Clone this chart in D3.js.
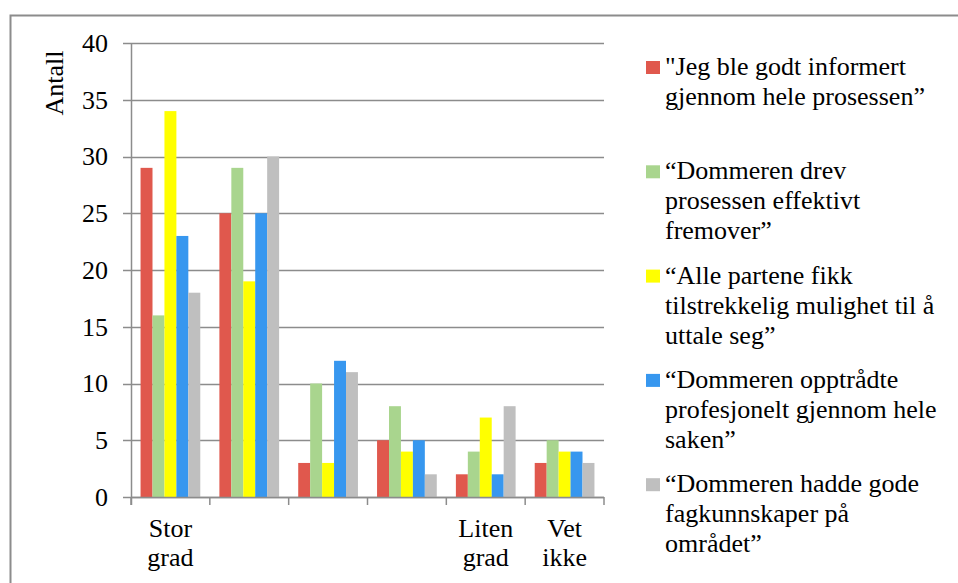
<!DOCTYPE html>
<html>
<head>
<meta charset="utf-8">
<script src="https://cdn.jsdelivr.net/npm/d3@7"></script>
<style>
  body { margin: 0; background: #fff; }
  svg text { font-family: 'Liberation Serif', serif !important; }
</style>
</head>
<body>
<div id="chart"></div>
<script>
// Categories (answer scale), each label split over two lines
const categories = [["Stor", "grad"], ["", ""], ["", ""], ["", ""], ["Liten", "grad"], ["Vet", "ikke"]];

// One series per statement
const seriesNames = [
    ["\"Jeg ble godt informert", "gjennom hele prosessen\u201d"],
    ["\u201cDommeren drev", "prosessen effektivt", "fremover\u201d"],
    ["\u201cAlle partene fikk", "tilstrekkelig mulighet til å", "uttale seg\u201d"],
    ["\u201cDommeren opptrådte", "profesjonelt gjennom hele", "saken\u201d"],
    ["\u201cDommeren hadde gode", "fagkunnskaper på", "området\u201d"]
];
const seriesColors = ["#e0584d", "#a9d58e", "#ffff00", "#3797ef", "#bfbfbf"];

const informert = [29, 25, 3, 5, 2, 3];
const effektivt = [16, 29, 10, 8, 4, 5];
const uttale    = [34, 19, 3, 4, 7, 4];
const profesjonelt = [23, 25, 12, 5, 2, 4];
const fagkunnskaper = [18, 30, 11, 2, 8, 3];
const seriesValues = [informert, effektivt, uttale, profesjonelt, fagkunnskaper];

const yTicks = [0, 5, 10, 15, 20, 25, 30, 35, 40];

const W = 958, H = 583;
const plot = { left: 131, right: 604, top: 43, bottom: 497 };
const fontSize = 26;
const gridColor = "#8c8c8c";

const svg = d3.select("#chart").append("svg")
    .attr("width", W)
    .attr("height", H);

// Times-like text everywhere
function serifText(sel) {
    return sel.style("font-family", "'Liberation Serif', serif", "important")
        .attr("font-size", fontSize)
        .attr("fill", "#000");
}

// Outer chart border (runs off the right and bottom of the picture)
svg.append("rect")
    .attr("x", 10.5).attr("y", 15.5)
    .attr("width", 960).attr("height", 600)
    .attr("fill", "none")
    .attr("stroke", gridColor)
    .attr("stroke-width", 2);

const x0 = d3.scaleBand()
    .domain(d3.range(categories.length))
    .range([plot.left, plot.right]);

const x1 = d3.scaleBand()
    .domain(d3.range(seriesValues.length))
    .range([0, x0.bandwidth()])
    .paddingOuter(0.8)
    .paddingInner(0);

const y = d3.scaleLinear()
    .domain([0, 40])
    .range([plot.bottom, plot.top]);

// Gridlines
svg.selectAll("line.grid")
    .data(yTicks)
    .enter().append("line")
    .attr("class", "grid")
    .attr("x1", plot.left - 8)
    .attr("x2", plot.right)
    .attr("y1", d => Math.round(y(d)) + 0.5)
    .attr("y2", d => Math.round(y(d)) + 0.5)
    .attr("stroke", gridColor)
    .attr("stroke-width", 1.5);

// Y axis labels
svg.selectAll("text.ylab")
    .data(yTicks)
    .enter().append("text")
    .attr("class", "ylab")
    .call(serifText)
    .attr("x", 108)
    .attr("y", d => y(d))
    .attr("dy", "0.34em")
    .attr("text-anchor", "end")
    .text(d => d);

// Bars
const barData = [];
categories.forEach((c, i) => {
    seriesValues.forEach((s, k) => barData.push({ cat: i, k: k, value: s[i] }));
});

svg.selectAll("rect.bar")
    .data(barData)
    .enter().append("rect")
    .attr("class", "bar")
    .attr("x", d => x0(d.cat) + x1(d.k))
    .attr("width", x1.bandwidth())
    .attr("y", d => y(d.value))
    .attr("height", d => plot.bottom - y(d.value))
    .attr("fill", d => seriesColors[d.k]);

// Y axis line and x axis with category ticks
svg.append("line")
    .attr("x1", plot.left + 0.5).attr("x2", plot.left + 0.5)
    .attr("y1", plot.top).attr("y2", plot.bottom + 8)
    .attr("stroke", gridColor).attr("stroke-width", 1.5);

svg.append("line")
    .attr("x1", plot.left).attr("x2", plot.right)
    .attr("y1", plot.bottom + 0.5).attr("y2", plot.bottom + 0.5)
    .attr("stroke", gridColor).attr("stroke-width", 1.5);

svg.selectAll("line.xtick")
    .data(d3.range(categories.length + 1))
    .enter().append("line")
    .attr("class", "xtick")
    .attr("x1", i => (i < categories.length ? x0(i) : plot.right))
    .attr("x2", i => (i < categories.length ? x0(i) : plot.right))
    .attr("y1", plot.bottom)
    .attr("y2", plot.bottom + 8)
    .attr("stroke", gridColor).attr("stroke-width", 1.5);

// Category labels, one text per line
const catLines = [];
categories.forEach((c, i) => c.forEach((t, j) => { if (t) catLines.push({ cat: i, line: j, text: t }); }));

svg.selectAll("text.cat")
    .data(catLines)
    .enter().append("text")
    .attr("class", "cat")
    .call(serifText)
    .attr("x", d => x0(d.cat) + x0.bandwidth() / 2)
    .attr("y", d => 537 + d.line * 29)
    .attr("text-anchor", "middle")
    .text(d => d.text);

// Y axis title
svg.append("text")
    .call(serifText)
    .attr("transform", "translate(63,83) rotate(-90)")
    .attr("text-anchor", "middle")
    .text("Antall");

// Legend
const legendX = 646, legendY = 75, legendStep = 104.3;

svg.selectAll("rect.swatch")
    .data(seriesNames)
    .enter().append("rect")
    .attr("class", "swatch")
    .attr("x", legendX)
    .attr("y", (d, i) => legendY + i * legendStep - 14)
    .attr("width", 14)
    .attr("height", 13)
    .attr("fill", (d, i) => seriesColors[i]);

const legendLines = [];
seriesNames.forEach((s, i) => s.forEach((t, j) => legendLines.push({ item: i, line: j, text: t })));

svg.selectAll("text.legend")
    .data(legendLines)
    .enter().append("text")
    .attr("class", "legend")
    .call(serifText)
    .attr("x", legendX + 19)
    .attr("y", d => legendY + d.item * legendStep + d.line * 30)
    .text(d => d.text);
</script>
</body>
</html>
